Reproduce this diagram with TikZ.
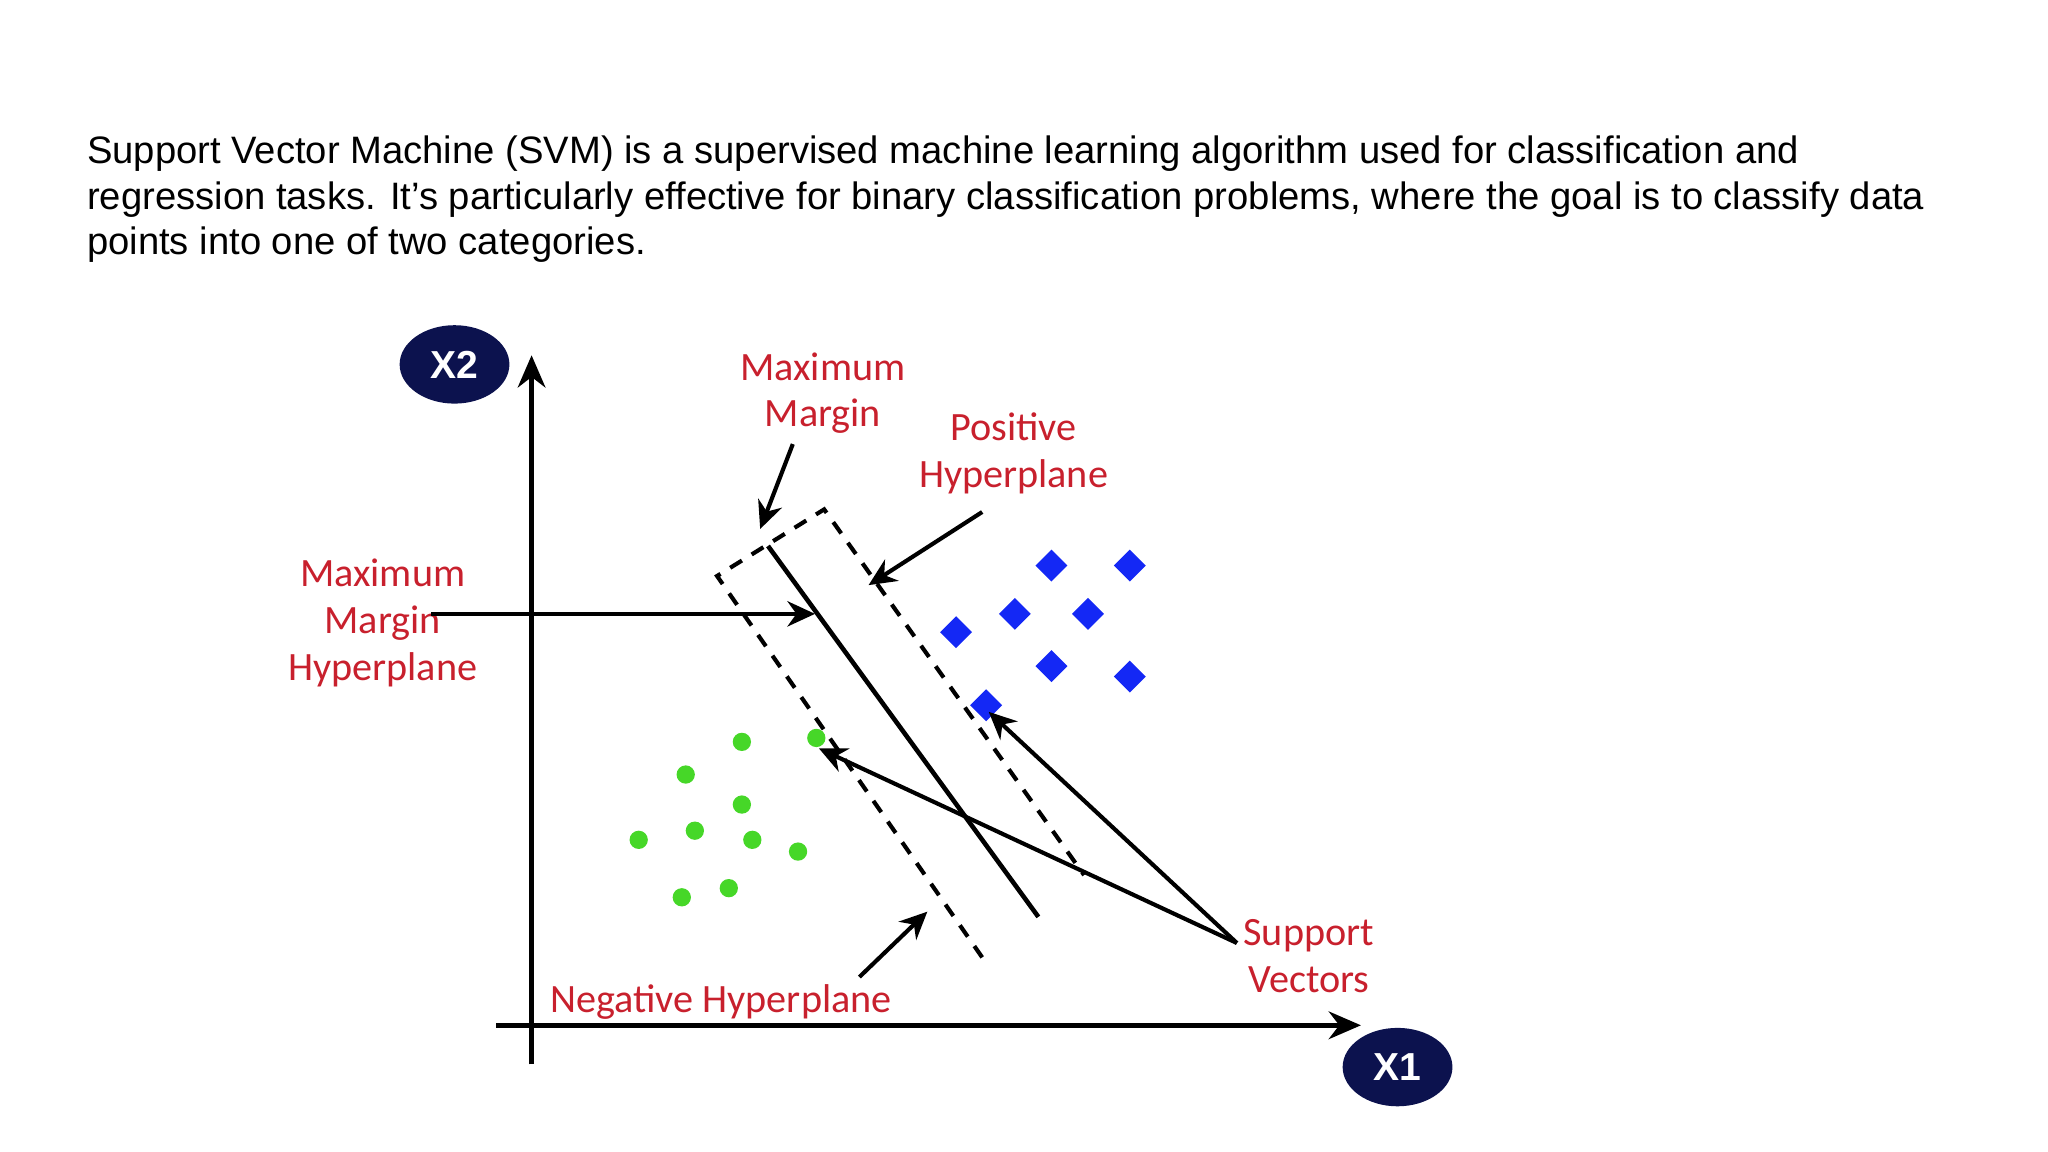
\documentclass[tikz,border=0pt]{standalone}
\usepackage{fontspec}
\setmainfont{Liberation Sans}
\newfontfamily\labfont{Carlito}
\usetikzlibrary{arrows.meta,shapes.geometric,positioning}
\definecolor{svmred}{RGB}{200,32,45}
\definecolor{svmnavy}{RGB}{12,18,78}
\definecolor{svmblue}{RGB}{20,40,245}
\definecolor{svmgreen}{RGB}{70,215,40}
\tikzset{
  lab/.style={text=svmred,font=\labfont\fontsize{8.75}{10.2}\selectfont,align=center,inner sep=0pt},
  ax/.style={line width=1.1pt,-{Stealth[length=7pt,width=6pt]}},
  arr/.style={line width=0.9pt,-{Stealth[length=6pt,width=5.5pt]}},
  axlab/.style={ellipse,fill=svmnavy,text=white,minimum width=0.84cm,minimum height=0.6cm,inner sep=0pt,font=\bfseries\fontsize{8.5}{9}\selectfont},
  posdot/.style={diamond,fill=svmblue,minimum size=0.25cm,inner sep=0pt},
  negdot/.style={circle,fill=svmgreen,minimum size=0.14cm,inner sep=0pt},
  hyp/.style={line width=0.9pt,dash pattern=on 3pt off 2.5pt}
}
\begin{document}
\begin{tikzpicture}[x=0.01cm,y=-0.01cm]
	\useasboundingbox (0,0) rectangle (1568,882);
	\node[anchor=north west,align=left,inner sep=0pt,font=\fontsize{8.32}{10}\selectfont] (intro) at (66,103)
	{Support Vector Machine (SVM) is a supervised machine learning algorithm used for classification and\\
	regression tasks. It\char"0027 s particularly effective for binary classification problems, where the goal is to classify data\\
	points into one of two categories.};
	
	% axes
	\coordinate (O_y) at (407,815); \coordinate (T_y) at (407,272);
	\coordinate (O_x) at (380,785); \coordinate (T_x) at (1042,785);
	\draw[ax] (O_y) -- (T_y);
	\draw[ax] (O_x) -- (T_x);
	\node[axlab] (X2) at (348,279) {X2};
	\node[axlab] (X1) at (1070,817) {X1};
	
	% hyperplanes
	\coordinate (H_a) at (588,418); \coordinate (H_b) at (795,702);
	\coordinate (N_a) at (549,441); \coordinate (N_b) at (752,733);
	\coordinate (P_a) at (631,390); \coordinate (P_b) at (830,670);
	\draw[line width=1pt] (H_a) -- (H_b);
	\draw[hyp] (N_b) -- (N_a) -- (P_a) -- (P_b);
	
	% classes
	\foreach \x/\y [count=\i] in {805/433,865/433,732/484,777/470,833/470,805/510,865/518,755/540}
		\node[posdot] (B_\i) at (\x,\y) {};
	\foreach \x/\y [count=\i] in {568/568,625/565,525/593,568/616,489/643,532/636,576/643,611/652,522/687,558/680}
		\node[negdot] (G_\i) at (\x,\y) {};
	
	% labels
	\node[lab] (MM)  at (630,301) {Maximum\\Margin};
	\node[lab] (PH)  at (776,347) {Positive\\Hyperplane};
	\node[lab] (MMH) at (293,477) {Maximum\\Margin\\Hyperplane};
	\node[lab] (NH)  at (552,767) {Negative Hyperplane};
	\node[lab] (SV)  at (1002,732) {Support\\Vectors};
	
	\coordinate (MM_e) at (582,405); \coordinate (PH_e) at (665,448);
	\coordinate (MMH_s) at (330,470); \coordinate (MMH_e) at (624,470);
	\coordinate (NH_s) at (658,748); \coordinate (NH_e) at (710,698);
	\coordinate (SV_s) at (947,722);
	\draw[arr] (607,340) -- (MM_e);
	\draw[arr] (752,392) -- (PH_e);
	\draw[arr] (MMH_s) -- (MMH_e);
	\draw[arr] (NH_s) -- (NH_e);
	\draw[arr] (SV_s) -- (627,573);
	\draw[arr] (SV_s) -- (757,545);
\end{tikzpicture}
\end{document}
